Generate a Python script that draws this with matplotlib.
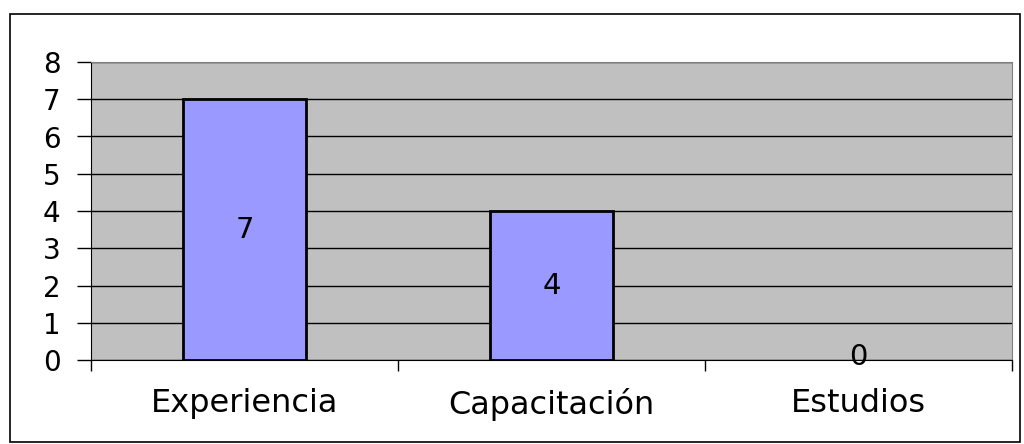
import matplotlib.pyplot as plt
from matplotlib.patches import Rectangle

plt.rcParams['font.family'] = ['DejaVu Sans']

# datos del grafico
categorias = ["Experiencia", "Capacitación", "Estudios"]
valores = [7, 4, 0]
marcas_y = [0, 1, 2, 3, 4, 5, 6, 7, 8]

fig = plt.figure(figsize=(10.24, 4.44), dpi=100)
ax = fig.add_axes([91/1024, 1 - 360/444, 921/1024, 298/444])

# marco exterior
fig.patches.append(Rectangle((10/1024, 2/444), 1010/1024, 428/444,
                             transform=fig.transFigure, fill=False,
                             edgecolor='black', linewidth=1.2))

ax.set_facecolor('#C0C0C0')
x = list(range(len(categorias)))
ax.set_xlim(-0.5, len(categorias) - 0.5)
ax.set_ylim(0, 8)
ax.set_yticks(marcas_y)
ax.yaxis.grid(True, color='black', linewidth=1)
ax.set_axisbelow(True)

for xi, v in zip(x, valores):
    if v > 0:
        ax.bar(xi, v, width=0.4, color='#9999FF', edgecolor='black',
               linewidth=2, zorder=3)
    ax.text(xi, v / 2 if v > 0 else 0.08, str(v), ha='center', va='center',
            fontsize=21, zorder=4)

for lado in ['top', 'right']:
    ax.spines[lado].set_color('#808080')
for lado in ['left', 'bottom']:
    ax.spines[lado].set_color('black')

ax.tick_params(axis='y', length=10, width=1, labelsize=20, pad=12)
ax.set_xticks([-0.5, 0.5, 1.5, 2.5])
ax.set_xticklabels([])
ax.tick_params(axis='x', length=8, width=1)
ax.set_xticks(x, minor=True)
ax.set_xticklabels(categorias, minor=True)
ax.tick_params(axis='x', which='minor', length=0, labelsize=23, pad=20)

fig.savefig('out.png', dpi=100)
